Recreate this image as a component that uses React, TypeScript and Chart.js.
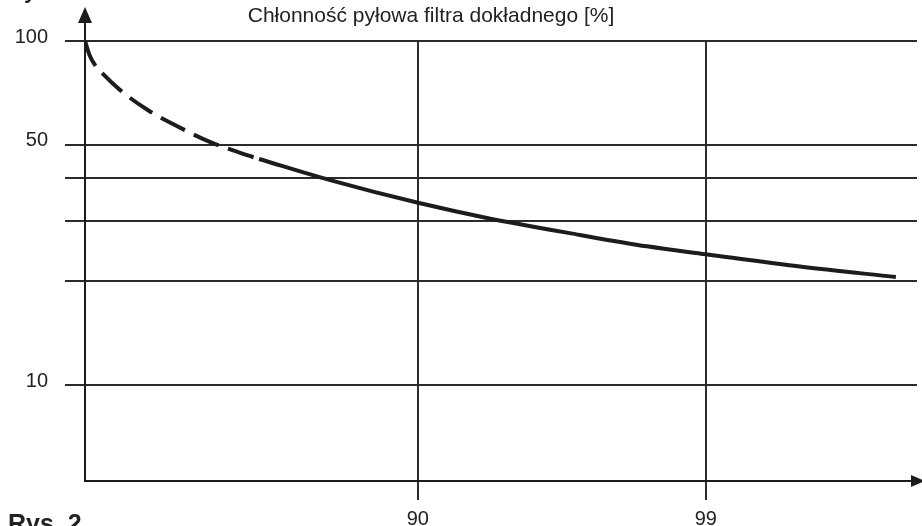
import React, { useEffect, useRef } from 'react';
import { Chart, registerables } from 'chart.js';

Chart.register(...registerables);

const titleText = 'Chłonność pyłowa filtra dokładnego [%]';
const figureLabel = 'Rys. 2';
const cornerLabel = 'y';

const xTicks = [90, 99];
const yGridValues = [100, 50, 40, 30, 20, 10];
const yLabelled = [100, 50, 10];

const dashedX = [79.6, 79.74, 79.91, 80.16, 80.69, 81.56, 82.47, 83.5, 84.69, 85.04];
const dashedY = [100, 91.1, 85.2, 80.2, 72.1, 63.0, 56.6, 50.9, 46.5, 45.4];
const solidX = [85.04, 87.26, 90.04, 92.16, 95.07, 97.16, 99.0, 101.94, 104.94];
const solidY = [45.4, 39.4, 33.8, 30.6, 27.3, 25.3, 24.0, 22.1, 20.6];

const xMin = 79.6;
const xMax = 105.6;
const yMin = 5.26;
const yMax = 100;

const FONT = '"Liberation Sans", Arial, Helvetica, sans-serif';
const INK = '#1c1c1c';

const decorPlugin = {
  id: 'decor',
  afterDraw(chart: any) {
    const { ctx, chartArea: a } = chart;
    ctx.save();
    ctx.strokeStyle = INK;
    ctx.fillStyle = INK;
    ctx.lineWidth = 2;
    // y axis with arrow
    ctx.beginPath();
    ctx.moveTo(a.left, a.bottom + 1);
    ctx.lineTo(a.left, a.top - 20);
    ctx.stroke();
    ctx.beginPath();
    ctx.moveTo(a.left, a.top - 34);
    ctx.lineTo(a.left - 7, a.top - 18);
    ctx.lineTo(a.left + 7, a.top - 18);
    ctx.closePath();
    ctx.fill();
    // x axis with arrow
    ctx.beginPath();
    ctx.moveTo(a.left - 1, a.bottom);
    ctx.lineTo(a.right - 4, a.bottom);
    ctx.stroke();
    ctx.beginPath();
    ctx.moveTo(a.right + 8, a.bottom);
    ctx.lineTo(a.right - 6, a.bottom - 6);
    ctx.lineTo(a.right - 6, a.bottom + 6);
    ctx.closePath();
    ctx.fill();
    // texts
    ctx.fillStyle = '#222';
    ctx.textAlign = 'center';
    ctx.textBaseline = 'alphabetic';
    ctx.font = `21px ${FONT}`;
    ctx.fillText(titleText, 431, 22);
    ctx.textAlign = 'left';
    ctx.font = `bold 22px ${FONT}`;
    ctx.fillText(cornerLabel, 24, -2);
    ctx.font = `bold 25px ${FONT}`;
    ctx.fillText(figureLabel, 8, 532);
    ctx.restore();
  },
};

export default function App() {
  const ref = useRef<HTMLCanvasElement | null>(null);

  useEffect(() => {
    if (!ref.current) return;
    const chart = new Chart(ref.current, {
      type: 'line',
      data: {
        datasets: [
          {
            data: dashedX.map((x, i) => ({ x, y: dashedY[i] })),
            borderColor: INK,
            borderWidth: 4,
            borderDash: [27, 10],
            pointRadius: 0,
            cubicInterpolationMode: 'monotone',
            fill: false,
          },
          {
            data: solidX.map((x, i) => ({ x, y: solidY[i] })),
            borderColor: INK,
            borderWidth: 4,
            pointRadius: 0,
            cubicInterpolationMode: 'monotone',
            fill: false,
          },
        ],
      },
      options: {
        animation: false,
        responsive: false,
        maintainAspectRatio: false,
        layout: { padding: { top: 41, right: 5, left: 0, bottom: 0 } },
        plugins: {
          legend: { display: false },
          tooltip: { enabled: false },
          title: { display: false },
        },
        scales: {
          x: {
            type: 'linear',
            min: xMin,
            max: xMax,
            afterBuildTicks: (s: any) => {
              s.ticks = xTicks.map((v) => ({ value: v }));
            },
            afterFit: (s: any) => {
              s.height = 45;
            },
            grid: { color: '#2b2b2b', lineWidth: 2, tickLength: 19, drawTicks: true },
            border: { display: false },
            ticks: {
              color: '#222',
              font: { family: FONT, size: 20 },
              padding: 7,
              maxRotation: 0,
              autoSkip: false,
              callback: (v: any) => String(v),
            },
          },
          y: {
            type: 'logarithmic',
            min: yMin,
            max: yMax,
            afterBuildTicks: (s: any) => {
              s.ticks = yGridValues.map((v) => ({ value: v }));
            },
            afterFit: (s: any) => {
              s.width = 85;
            },
            grid: { color: '#2b2b2b', lineWidth: 2, tickLength: 20, drawTicks: true },
            border: { display: false },
            ticks: {
              color: '#222',
              font: { family: FONT, size: 20 },
              padding: 17,
              labelOffset: -4,
              autoSkip: false,
              callback: (v: any) => (yLabelled.includes(Number(v)) ? String(v) : ''),
            },
          },
        },
      } as any,
      plugins: [decorPlugin],
    });
    return () => chart.destroy();
  }, []);

  return (
    <div style={{ position: 'fixed', left: 0, top: 0, width: 922, height: 526, background: '#fff' }}>
      <canvas ref={ref} width={922} height={526} style={{ display: 'block', width: 922, height: 526 }} />
    </div>
  );
}
